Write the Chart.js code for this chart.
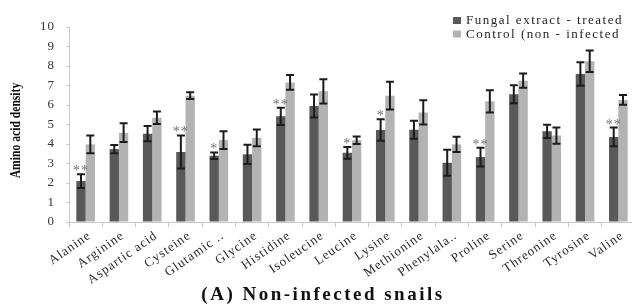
<!DOCTYPE html>
<html><head><meta charset="utf-8">
<script src="https://cdn.jsdelivr.net/npm/chart.js@4.4.1/dist/chart.umd.min.js"></script>
<style>
html,body{margin:0;padding:0;background:#fff;overflow:hidden;}
#wrap{position:relative;width:636px;height:307px;}
</style></head>
<body>
<div id="wrap"><canvas id="c"></canvas></div>
<script>
const categories = ['Alanine','Arginine','Aspartic acid','Cysteine','Glutamic ..','Glycine','Histidine','Isoleucine','Leucine','Lysine','Methionine','Phenylala..','Proline','Serine','Threonine','Tyrosine','Valine'];
const fungal     = [2.10,3.74,4.53,3.59,3.40,3.47,5.42,5.95,3.55,4.72,4.73,3.04,3.33,6.55,4.65,7.59,4.36];
const fungalErr  = [0.35,0.21,0.39,0.85,0.17,0.49,0.44,0.59,0.30,0.55,0.46,0.67,0.48,0.46,0.34,0.60,0.48];
const control    = [3.98,4.58,5.35,6.48,4.20,4.32,7.16,6.70,4.19,6.48,5.62,3.98,6.19,7.25,4.43,8.24,6.26];
const controlErr = [0.45,0.48,0.32,0.17,0.45,0.43,0.38,0.62,0.19,0.71,0.62,0.39,0.57,0.37,0.42,0.55,0.25];
const signif     = ['**','','','**','*','','**','','*','*','','','**','','','','**'];
const seriesNames = ['Fungal extract - treated','Control (non - infected'];
const yTitle = 'Amino acid density';
const chartTitle = '(A) Non-infected snails';
const yMin = 0, yMax = 10, yStep = 1;

const SERIF = '"Liberation Serif","Times New Roman",serif';
const errs = [fungalErr, controlErr];

const spacingPlugin = {
  id: 'spacing',
  beforeLayout(chart){ chart.ctx.letterSpacing = '1px'; },
  beforeDraw(chart){ chart.ctx.letterSpacing = '1px'; }
};

const extrasPlugin = {
  id: 'extras',
  afterDatasetsDraw(chart){
    const ctx = chart.ctx, ys = chart.scales.y;
    ctx.save();
    ctx.letterSpacing = '0px';
    // error bars
    chart.data.datasets.forEach((ds, di) => {
      const meta = chart.getDatasetMeta(di);
      meta.data.forEach((el, i) => {
        const v = ds.data[i], e = errs[di][i];
        const yt = ys.getPixelForValue(v + e), yb = ys.getPixelForValue(v - e);
        ctx.strokeStyle = '#1c1c1c';
        ctx.lineWidth = 2;
        ctx.beginPath();
        ctx.moveTo(el.x, yt); ctx.lineTo(el.x, yb);
        ctx.moveTo(el.x - 4, yt); ctx.lineTo(el.x + 4, yt);
        ctx.moveTo(el.x - 4, yb); ctx.lineTo(el.x + 4, yb);
        ctx.stroke();
      });
    });
    // significance stars
    const meta0 = chart.getDatasetMeta(0);
    ctx.font = '14px ' + SERIF;
    ctx.fillStyle = '#707070';
    ctx.textAlign = 'center';
    ctx.textBaseline = 'alphabetic';
    ctx.letterSpacing = '1px';
    signif.forEach((s, i) => {
      if (!s) return;
      const el = meta0.data[i];
      const yt = ys.getPixelForValue(fungal[i] + fungalErr[i]);
      ctx.fillText(s, el.x, yt + 1);
    });
    ctx.restore();
  },
  afterDraw(chart){
    const ctx = chart.ctx;
    ctx.save();
    // legend
    ctx.font = '13px ' + SERIF;
    ctx.letterSpacing = '1.5px';
    ctx.textBaseline = 'middle';
    ctx.textAlign = 'left';
    const rows = [20.5, 34];
    chart.data.datasets.forEach((ds, di) => {
      ctx.fillStyle = ds.backgroundColor;
      ctx.fillRect(453, rows[di] - 3.5, 8, 7);
      ctx.fillStyle = '#1e1e1e';
      ctx.fillText(ds.label, 466, rows[di] + 0.5);
    });
    // y axis title (condensed, rotated)
    ctx.save();
    ctx.letterSpacing = '0px';
    ctx.translate(16.5, 130.5);
    ctx.rotate(-Math.PI / 2);
    ctx.scale(0.83, 1);
    ctx.font = 'bold 14px ' + SERIF;
    ctx.textAlign = 'center';
    ctx.textBaseline = 'middle';
    ctx.fillStyle = '#111';
    ctx.fillText(yTitle, 0, 0);
    ctx.restore();
    // bottom title
    ctx.font = 'bold 19px ' + SERIF;
    ctx.letterSpacing = '2.5px';
    ctx.textAlign = 'center';
    ctx.textBaseline = 'middle';
    ctx.fillStyle = '#111';
    ctx.fillText(chartTitle, 323, 295);
    ctx.restore();
  }
};

new Chart(document.getElementById('c'), {
  type: 'bar',
  data: {
    labels: categories,
    datasets: [
      { label: seriesNames[0], data: fungal, backgroundColor: '#595959' },
      { label: seriesNames[1], data: control, backgroundColor: '#b3b3b3' }
    ]
  },
  options: {
    responsive: true,
    maintainAspectRatio: false,
    animation: false,
    layout: { padding: { top: 27, left: 0, right: 1, bottom: 20 } },
    datasets: { bar: { categoryPercentage: 0.56, barPercentage: 1.0 } },
    plugins: { legend: { display: false }, title: { display: false }, tooltip: { enabled: false } },
    scales: {
      x: {
        offset: true,
        grid: { display: true, drawOnChartArea: false, drawTicks: true, tickLength: 5, color: '#c8c8c8', offset: true },
        border: { display: true, color: '#c8c8c8', width: 1 },
        ticks: {
          autoSkip: false, minRotation: 35, maxRotation: 35, padding: 1, labelOffset: 4,
          font: { family: SERIF, size: 13 }, color: '#2a2a2a'
        },
        afterFit(scale){ scale.height = 65; }
      },
      y: {
        min: yMin, max: yMax,
        grid: { display: true, drawOnChartArea: false, drawTicks: true, tickLength: 3, color: '#c8c8c8' },
        border: { display: true, color: '#c8c8c8', width: 1 },
        ticks: { stepSize: yStep, padding: 11, font: { family: SERIF, size: 13 }, color: '#333' },
        title: { display: false },
        afterFit(scale){ scale.width = 69; }
      }
    }
  },
  plugins: [spacingPlugin, extrasPlugin]
});
</script>
</body></html>
